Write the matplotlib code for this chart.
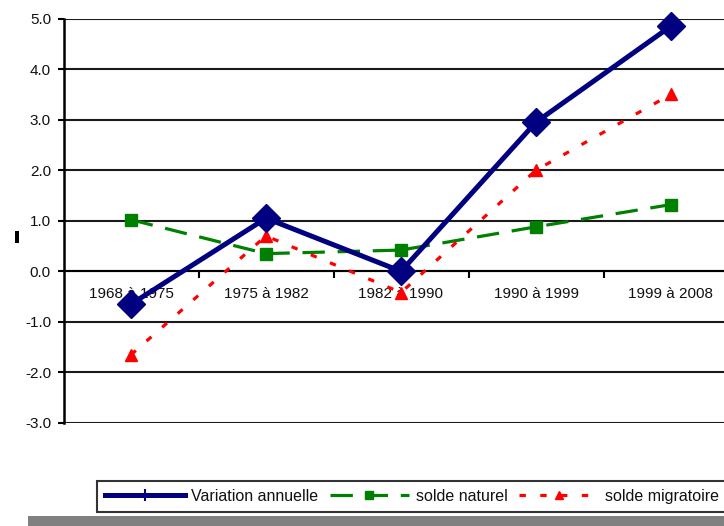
import matplotlib
matplotlib.use("Agg")
import matplotlib.pyplot as plt
from matplotlib.lines import Line2D
from matplotlib.patches import Rectangle
from matplotlib.ticker import FixedLocator, FormatStrFormatter

categories = ["1968 à 1975", "1975 à 1982", "1982 à 1990", "1990 à 1999", "1999 à 2008"]
variation = [-0.65, 1.05, 0.0, 2.95, 4.85]
naturel = [1.02, 0.35, 0.42, 0.88, 1.32]
migratoire = [-1.65, 0.70, -0.42, 2.00, 3.50]
series_names = ["Variation annuelle", "solde naturel", "solde migratoire"]
yticks = [-3.0, -2.0, -1.0, 0.0, 1.0, 2.0, 3.0, 4.0, 5.0]

plt.rcParams['font.family'] = ['Liberation Sans', 'DejaVu Sans']
FS = 11
TXT = '#111111'

W, H = 724, 526
fig = plt.figure(figsize=(W / 100, H / 100), dpi=100)
left_px, right_px = 63.5, 738.5
top_px, bot_px = 18.5, 423.0
ax = fig.add_axes([left_px / W, 1 - bot_px / H, (right_px - left_px) / W, (bot_px - top_px) / H])

x = list(range(len(categories)))
ax.set_xlim(-0.5, len(categories) - 0.5)
ax.set_ylim(-3, 5)

for y in yticks:
    ax.axhline(y, color='#1a1a1a', lw=1.5, zorder=1)

ax.plot(x, naturel, color='#008000', lw=2.3, dashes=(7, 4), marker='s', ms=8,
        zorder=3, label=series_names[1], clip_on=False)
ax.plot(x, migratoire, color='#ff0000', lw=2.3, dashes=(2, 4.5), marker='^', ms=9,
        zorder=3, label=series_names[2], clip_on=False)
ax.plot(x, variation, color='#000080', lw=3.6, marker='D', ms=14,
        zorder=4, label=series_names[0], clip_on=False)

for s in ['top', 'right']:
    ax.spines[s].set_visible(False)
ax.spines['bottom'].set_position(('data', 0))
ax.spines['bottom'].set_linewidth(1.5)
ax.spines['left'].set_linewidth(1.8)

ax.set_yticks(yticks)
ax.yaxis.set_major_formatter(FormatStrFormatter('%.1f'))
ax.tick_params(axis='y', length=4, width=1.5, labelsize=FS, pad=5, labelcolor=TXT)

ax.xaxis.set_major_locator(FixedLocator([i + 0.5 for i in range(len(categories) - 1)]))
ax.xaxis.set_minor_locator(FixedLocator(x))
ax.set_xticklabels([], minor=False)
ax.set_xticklabels(categories, minor=True)
ax.tick_params(axis='x', which='major', length=5, width=1.5, direction='out')
ax.tick_params(axis='x', which='minor', length=0, labelsize=FS, pad=11, labelcolor=TXT)

# legend
handles = [
    Line2D([], [], color='#000080', lw=3.6, marker='|', ms=9, mew=1.5),
    Line2D([], [], color='#008000', lw=2.3, dashes=(7, 4), marker='s', ms=6),
    Line2D([], [], color='#ff0000', lw=2.3, dashes=(2, 4.5), marker='^', ms=6),
]
leg = fig.legend(handles, series_names, loc='lower left',
                 bbox_to_anchor=(97 / W, 1 - 512 / H), ncol=3, fontsize=11.5,
                 frameon=True, fancybox=False, edgecolor='black', handlelength=5.0,
                 handletextpad=0.4, columnspacing=0.7, borderpad=0.5,
                 borderaxespad=0, labelcolor=TXT)
leg.get_frame().set_linewidth(1.5)

fig.patches.append(Rectangle((28 / W, 0), 1 - 28 / W, 10 / H, transform=fig.transFigure,
                             facecolor='#808080', edgecolor='none'))
fig.patches.append(Rectangle((15 / W, 1 - 243 / H), 4 / W, 12 / H, transform=fig.transFigure,
                             facecolor='black', edgecolor='none'))

fig.savefig('out.png', dpi=100)
